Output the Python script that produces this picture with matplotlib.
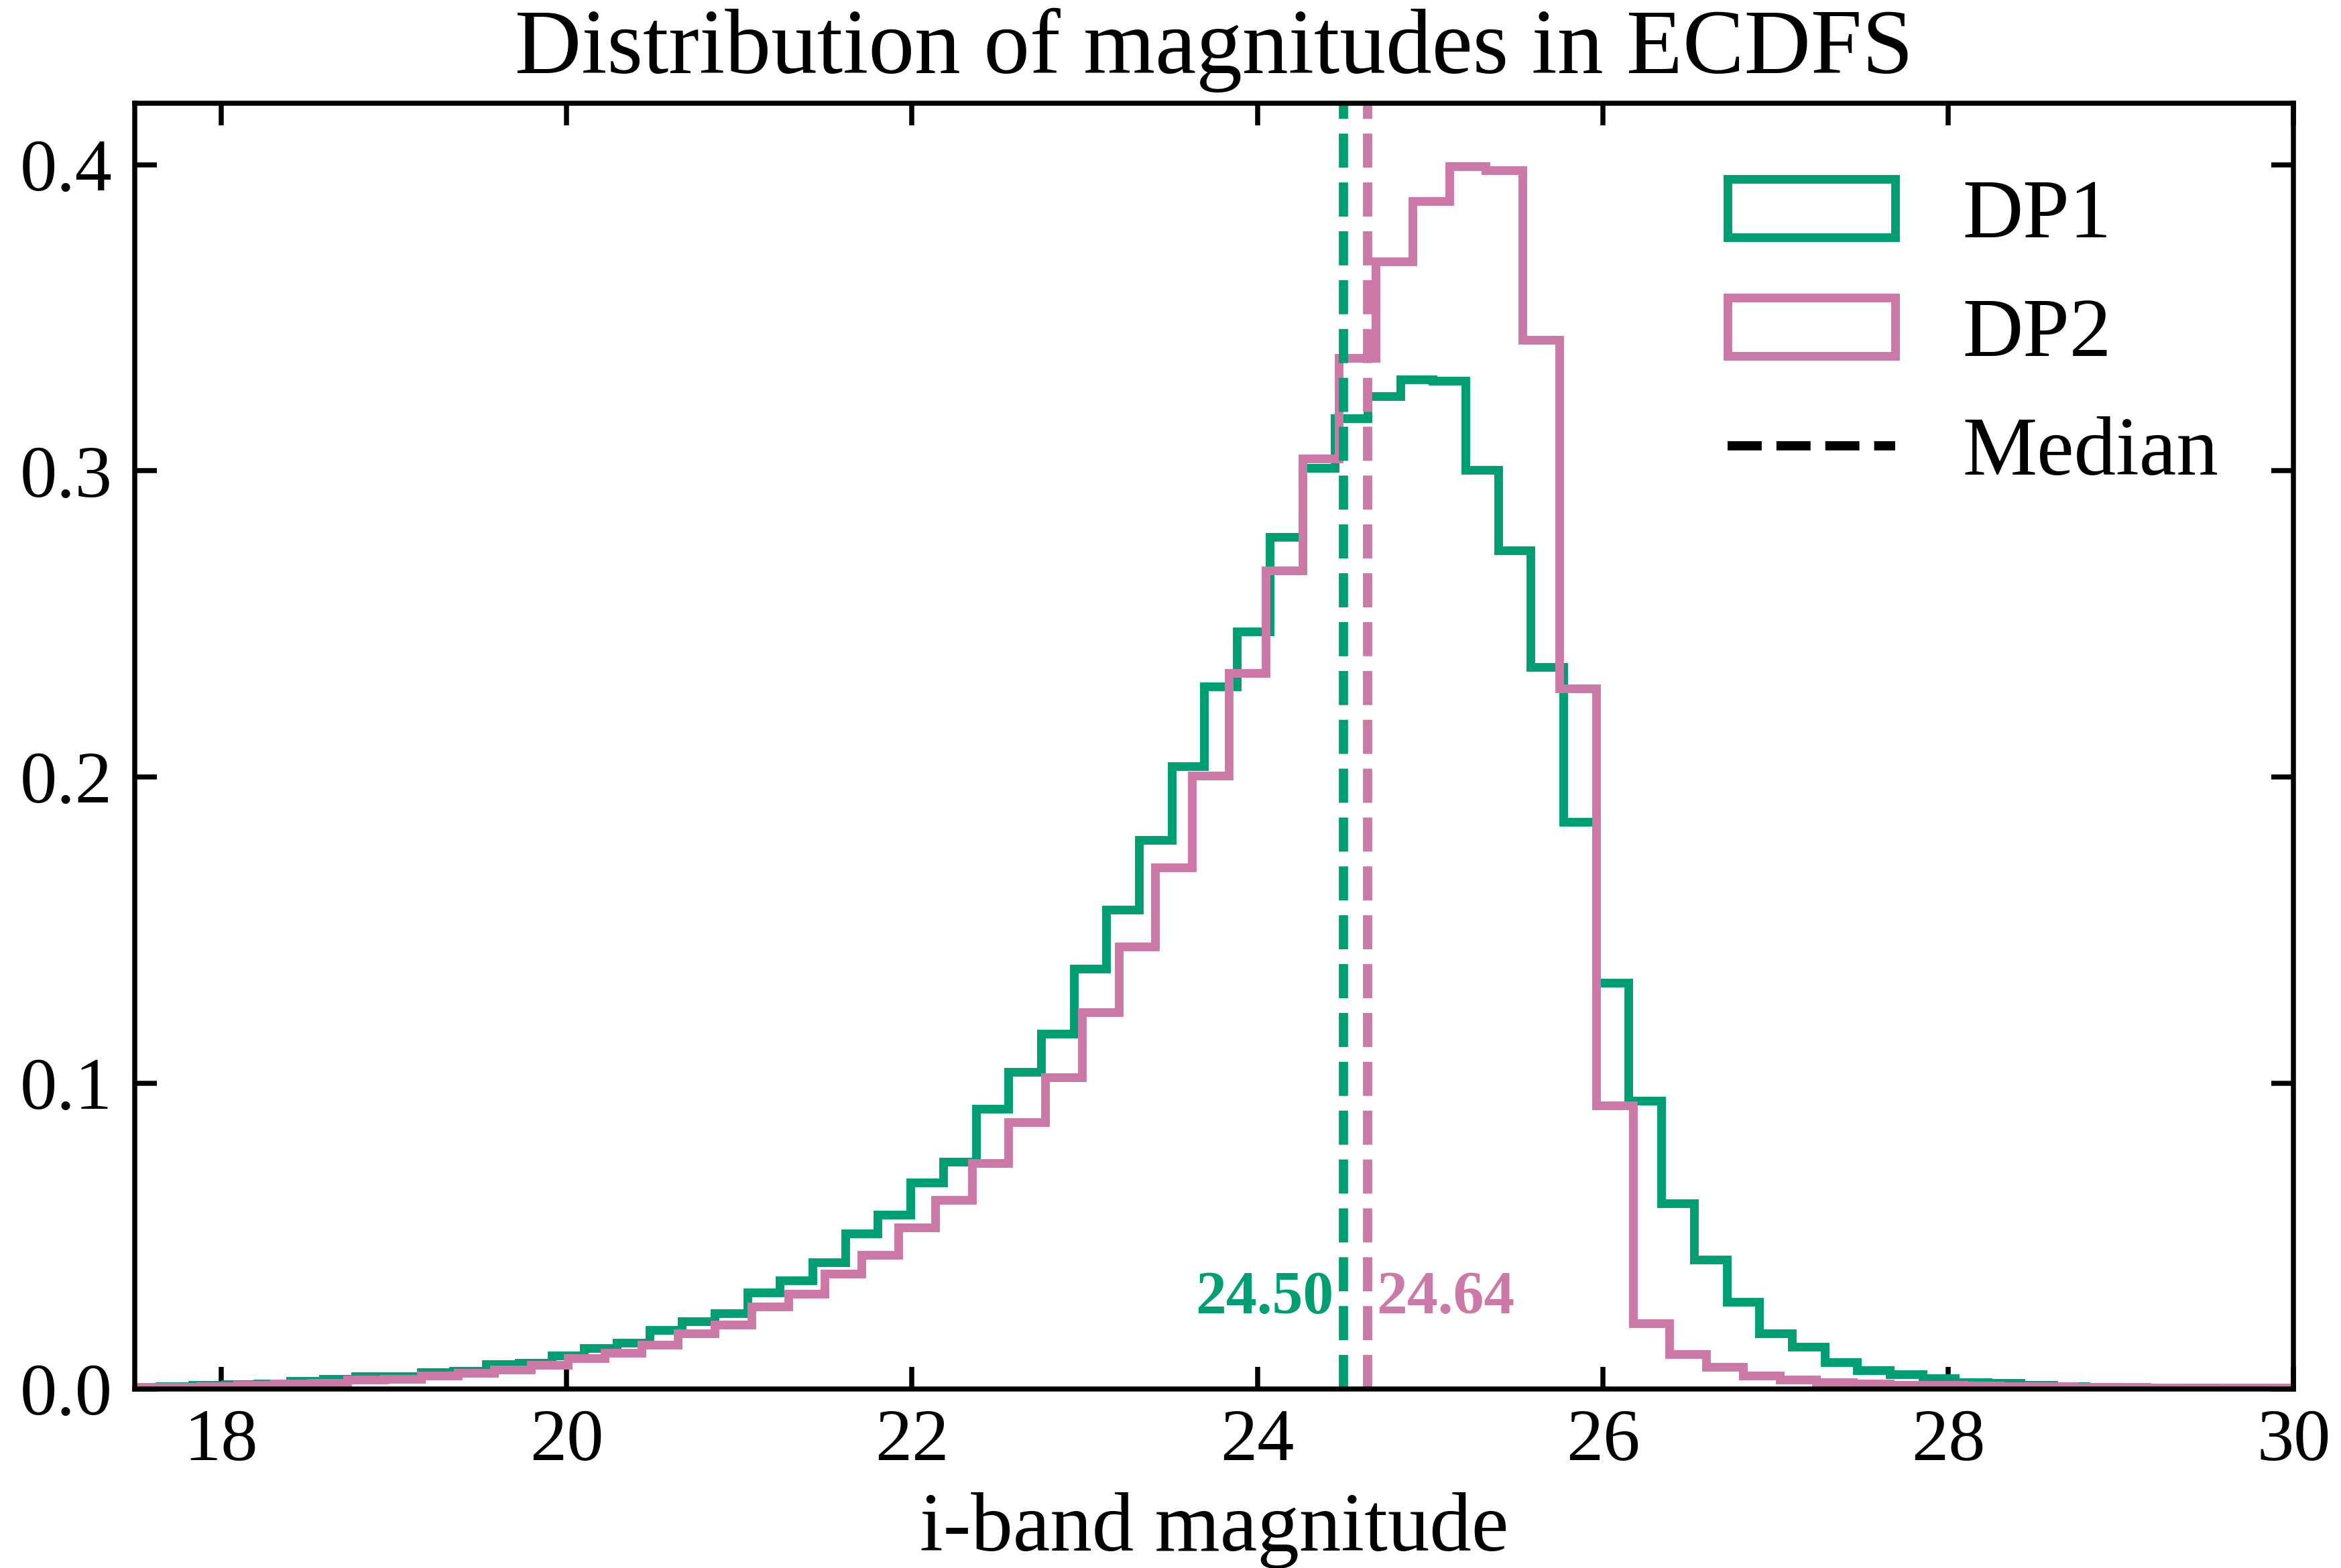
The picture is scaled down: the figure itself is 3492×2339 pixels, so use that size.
import numpy as np
import matplotlib
matplotlib.use("Agg")
import matplotlib.pyplot as plt

# ---- histogram data (density-normalised step histograms) ----
dp1_first_edge = 17.456
dp1_bin_width = 0.189
dp1_density = [
    0.0007, 0.0009, 0.0013, 0.0015, 0.0017, 0.0027, 0.0034, 0.0041, 0.0041, 0.0054,
    0.0059, 0.0081, 0.0085, 0.0110, 0.0133, 0.0152, 0.0192, 0.0222, 0.0248, 0.0316,
    0.0355, 0.0415, 0.0509, 0.0569, 0.0674, 0.0742, 0.0915, 0.1036, 0.1162, 0.1373,
    0.1566, 0.1793, 0.2034, 0.2296, 0.2475, 0.2784, 0.3010, 0.3171, 0.3244, 0.3299,
    0.3295, 0.3002, 0.2739, 0.2358, 0.1852, 0.1327, 0.0941, 0.0606, 0.0423, 0.0285,
    0.0182, 0.0139, 0.0088, 0.0061, 0.0049, 0.0036, 0.0022, 0.0019, 0.0013, 0.0008,
    0.0007, 0.0005, 0.0003, 0.0004, 0.0002, 0.0002, 0.0002,
]

dp2_first_edge = 17.457
dp2_bin_width = 0.2126
dp2_density = [
    0.0006, 0.0006, 0.0009, 0.0013, 0.0018, 0.0021, 0.0030, 0.0034, 0.0043, 0.0052,
    0.0064, 0.0080, 0.0101, 0.0119, 0.0144, 0.0182, 0.0210, 0.0270, 0.0311, 0.0376,
    0.0439, 0.0528, 0.0617, 0.0738, 0.0871, 0.1018, 0.1231, 0.1446, 0.1705, 0.2005,
    0.2339, 0.2674, 0.3040, 0.3369, 0.3684, 0.3880, 0.3995, 0.3981, 0.3427, 0.2289,
    0.0926, 0.0215, 0.0114, 0.0072, 0.0044, 0.0031, 0.0022, 0.0017, 0.0014, 0.0013,
    0.0012, 0.0010, 0.0008, 0.0007, 0.0006, 0.0005, 0.0005, 0.0004, 0.0004,
]

medians = {"DP1": 24.50, "DP2": 24.64}
labels = ["DP1", "DP2"]
xticks = [18, 20, 22, 24, 26, 28, 30]
yticks = [0.0, 0.1, 0.2, 0.3, 0.4]

COLORS = {"DP1": "#009E73", "DP2": "#CC79A7"}

plt.rcParams["font.family"] = ["Liberation Serif", "DejaVu Serif"]
plt.rcParams["mathtext.fontset"] = "stix"

fig = plt.figure(figsize=(3492 / 300, 2339 / 300), dpi=300)
ax = fig.add_axes([0.0575, 0.1141, 0.9798 - 0.0575, 0.934 - 0.1141])


def edges_from(first, width, n):
    return first + width * np.arange(n + 1)


for name, first, width, dens in [
    ("DP1", dp1_first_edge, dp1_bin_width, dp1_density),
    ("DP2", dp2_first_edge, dp2_bin_width, dp2_density),
]:
    edges = edges_from(first, width, len(dens))
    centers = 0.5 * (edges[:-1] + edges[1:])
    ax.hist(centers, bins=edges, weights=dens, histtype="step",
            color=COLORS[name], lw=3.1, label=name)

# median markers
for name in labels:
    ax.axvline(medians[name], color=COLORS[name], ls="--", lw=3.3)

ax.plot([], [], color="black", ls="--", lw=3.3, label="Median")

ax.text(medians["DP1"] - 0.06, 0.0295, f"{medians['DP1']:.2f}", color=COLORS["DP1"],
        fontsize=22, fontweight="bold", ha="right", va="center")
ax.text(medians["DP2"] + 0.05, 0.0295, f"{medians['DP2']:.2f}", color=COLORS["DP2"],
        fontsize=22, fontweight="bold", ha="left", va="center")

ax.set_xlim(17.5, 30)
ax.set_ylim(0, 0.42)
ax.set_xticks(xticks)
ax.set_yticks(yticks)
ax.set_xticklabels([str(t) for t in xticks])
ax.set_yticklabels([f"{t:.1f}" for t in yticks])

ax.tick_params(axis="both", which="major", direction="in", top=True, right=True,
               length=8, width=1.8, labelsize=26.5)
ax.tick_params(axis="x", pad=7)
ax.tick_params(axis="y", pad=8)
ax.minorticks_off()
for sp in ax.spines.values():
    sp.set_linewidth(1.8)

ax.set_xlabel("i-band magnitude", fontsize=30, labelpad=6)
ax.set_title("Distribution of magnitudes in ECDFS", fontsize=33, pad=11)

ax.legend(loc="upper right", frameon=False, fontsize=30)

fig.savefig("out.png", dpi=300)
